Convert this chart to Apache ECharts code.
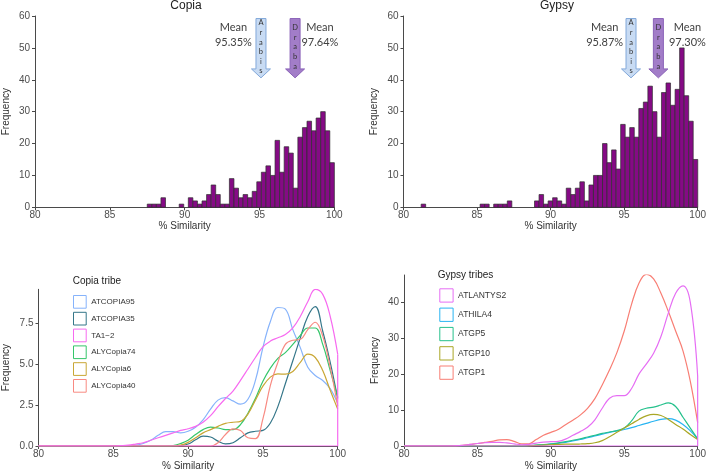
<!DOCTYPE html>
<html><head><meta charset="utf-8">
<script src="https://cdn.jsdelivr.net/npm/echarts@6/dist/echarts.min.js"></script>
<style>html,body{margin:0;padding:0;background:#fff}#c{width:709px;height:472px}</style>
</head><body><div id="c"></div>
<script>
// ---------- DATA ----------
// Histogram: Copia (41 bins starting 87.5)
const copiaBinStart = 87.5;
const copiaBinWidth = 0.305;
const copiaCounts = [1,1,1,3,0,0,0,1,0,3,2,1,2,4,7,4,1,1,9,6,3,4,3,5,8,11,13,10,21,11,19,17,6,22,25,27,24,28,30,24,14];
// Histogram: Gypsy (61 bins starting 81.2)
const gypsyBinStart = 81.2;
const gypsyBinWidth = 0.3083;
const gypsyCounts = [1,0,0,0,0,0,0,0,0,0,0,0,0,1,1,0,1,1,1,2,0,0,0,0,0,
  2,4,1,2,3,2,1,6,4,6,8,2,7,10,10,20,14,18,12,26,22,25,22,31,33,38,30,22,36,39,32,37,50,35,27,15];

const xTicks = [80,85,90,95,100];
const copiaMeans = ['95.35%','97.64%'];
const gypsyMeans = ['95.87%','97.30%'];
const arrowNames = ['Arabis','Draba'];

// Density curves: Copia tribe
const copiaCurveX = [80,84,85,85.5,86,86.5,87,87.5,88,88.5,89,89.5,90,90.5,91,91.5,92,92.5,93,93.5,94,94.5,95,95.5,96,96.5,97,97.5,98,98.5,99,99.5,100];
const copiaNames = ['ATCOPIA95','ATCOPIA35','TA1\u22122','ALYCopia74','ALYCopia6','ALYCopia40'];
const ATCOPIA95 = [0,0,0,0,0.02,0.05,0.15,0.35,0.65,0.88,0.88,0.8,0.9,1.15,1.6,2.25,2.8,2.95,2.75,2.55,2.85,4.0,6.0,7.6,8.45,8.35,7.1,6.0,4.8,4.3,4.0,3.5,2.6];
const ATCOPIA35 = [0,0,0,0,0,0,0,0,0,0,0,0.03,0.12,0.38,0.6,0.55,0.3,0.13,0.2,0.5,0.8,0.9,0.95,1.4,2.4,3.8,5.2,6.6,7.9,8.5,7.0,5.1,2.9];
const TA1_2 = [0,0,0,0.02,0.05,0.12,0.2,0.35,0.5,0.65,0.8,0.95,1.05,1.2,1.45,1.85,2.4,2.9,3.35,4.0,4.7,5.4,6.05,6.4,6.6,6.8,7.2,7.9,8.8,9.55,9.25,7.9,5.6];
const ALYCopia74 = [0,0,0,0,0,0,0,0,0,0,0.03,0.15,0.35,0.7,1.0,1.15,1.1,1.0,1.0,1.3,2.0,2.9,3.95,4.75,5.35,5.7,6.2,6.75,7.2,7.2,6.2,4.6,3.0];
const ALYCopia6 = [0,0,0,0,0,0,0,0,0,0,0,0.05,0.22,0.5,0.8,1.0,1.2,1.38,1.45,1.5,1.95,2.8,3.65,4.2,4.4,4.38,4.55,5.1,5.6,5.4,4.6,3.4,2.25];
const ALYCopia40 = [0,0,0,0,0,0,0,0,0,0,0,0,0,0,0,0,0.2,0.7,1.05,0.95,0.5,0.45,1.65,3.7,5.1,6.2,6.45,6.5,7.1,7.55,6.7,4.8,2.45];

// Density curves: Gypsy tribes
const gypsyCurveX = [80,83,83.5,84,84.5,85,85.5,86,86.5,87,87.5,88,88.5,89,89.5,90,90.5,91,91.5,92,92.5,93,93.5,94,94.5,95,95.5,96,96.5,97,97.5,98,98.5,99,99.5,100];
const gypsyNames = ['ATLANTYS2','ATHILA4','ATGP5','ATGP10','ATGP1'];
const ATLANTYS2 = [0,0,0.05,0.2,0.45,0.7,0.9,1.0,1.0,0.85,0.6,0.35,0.45,0.8,1.1,1.2,1.3,1.9,3.0,4.0,5.2,7.3,10.5,13.3,14.0,14.0,16.0,20.0,22.8,25.8,30.5,37.0,42.5,44.6,40.0,19.5];
const ATHILA4 = [0,0,0,0,0,0,0,0,0,0,0,0,0.1,0.2,0.35,0.5,0.75,1.0,1.4,1.8,2.3,2.8,3.3,3.8,4.2,4.6,5.1,5.7,6.3,6.9,7.4,7.6,7.2,6.0,4.2,2.0];
const ATGP5 = [0,0,0,0,0,0,0,0,0,0,0,0,0.1,0.25,0.4,0.6,0.85,1.2,1.6,2.0,2.5,3.0,3.5,3.9,4.3,5.0,7.0,9.7,10.5,10.8,11.4,12.0,11.0,8.0,5.0,2.0];
const ATGP10 = [0,0,0,0,0,0,0,0,0,0,0,0,0.05,0.15,0.25,0.35,0.45,0.5,0.5,0.55,0.65,0.9,1.5,2.6,3.8,5.0,6.2,7.4,8.4,8.8,8.5,7.4,6.0,4.7,3.2,1.8];
const ATGP1 = [0,0,0.05,0.2,0.45,0.7,1.0,1.3,1.7,1.8,1.3,0.6,0.6,1.8,3.0,3.8,4.6,5.9,7.2,8.6,10.5,13.2,17.0,21.2,26.0,32.0,39.5,45.3,47.8,46.5,42.5,37.5,32.0,26.5,18.0,6.5];

// ---------- STYLE ----------
const copiaColors = ['#86b3fb','#347689','#f76af0','#35c66a','#c9a735','#f88a82'];
const gypsyColors = ['#e66ef4','#28b4f2','#25c18c','#aaa726','#f87e74'];
const AX = '#4a4a4a', LBL = '#4d4d4d', FF = 'Liberation Sans, Arial, sans-serif';

function pairs(xs, ys){ return xs.map((x,i)=>[x, ys[i]]); }
function histData(start, w, counts){
  const out = [];
  counts.forEach((c,i)=>{ if(c>0) out.push([start+i*w, start+(i+1)*w, c]); });
  return out;
}
function histRender(params, api){
  const p0 = api.coord([api.value(0), api.value(2)]);
  const p1 = api.coord([api.value(1), 0]);
  return {type:'rect', shape:{x:p0[0], y:p0[1], width:p1[0]-p0[0], height:p1[1]-p0[1]},
    style:{fill:'#850a85', stroke:'#2e2e2e', lineWidth:0.7}};
}
// arrow annotation geometry in frequency units
const arrowTop = 59.2, arrowHeadY = 43.4, arrowTipY = 40.6;
function arrowRender(params, api){
  const x = api.value(0), idx = api.value(1);
  const t = api.coord([x, arrowTop]), h = api.coord([x, arrowHeadY]), p = api.coord([x, arrowTipY]);
  const cx = t[0], sw = 5, hw = 9.5;
  const fill = idx === 0 ? '#c8dbf3' : '#a27dc8';
  const stroke = idx === 0 ? '#82a8da' : '#8a62b8';
  const word = arrowNames[idx];
  const children = [{type:'polygon', shape:{points:[[cx-sw,t[1]],[cx+sw,t[1]],[cx+sw,h[1]],[cx+hw,h[1]],[cx,p[1]],[cx-hw,h[1]],[cx-sw,h[1]]]},
    style:{fill:fill, stroke:stroke, lineWidth:1}}];
  const step = 9.6, mid = t[1] + 28.5;
  const n = word.length;
  for(let i=0;i<n;i++){
    children.push({type:'text', x:cx, y: mid + (i-(n-1)/2)*step,
      style:{text:word[i], fill:'#333', fontSize:7.5, fontFamily:'Lato, sans-serif', align:'center', verticalAlign:'middle'}});
  }
  return {type:'group', children:children};
}
const meanY = 53.9;
function meanRender(params, api){
  const c = api.coord([api.value(0), meanY]);
  const list = params.seriesIndex === 2 ? copiaMeans : gypsyMeans;
  return {type:'text', x:c[0], y:c[1], style:{text:'Mean\n'+list[api.value(1)], fill:'#404040', fontSize:11, lineHeight:15,
    fontFamily:'Lato, sans-serif', align:'center', verticalAlign:'middle'}};
}

function xAxisOpt(gi, gap){
  return {type:'value', gridIndex:gi, min:80, max:100, interval:5,
    axisLine:{show:true, lineStyle:{color:AX, width:1}}, axisTick:{show:true, length:3, lineStyle:{color:AX}},
    axisLabel:{fontSize:10, color:LBL, margin:3, fontFamily:FF}, splitLine:{show:false},
    name:'% Similarity', nameLocation:'middle', nameGap:gap, nameTextStyle:{fontSize:10, color:'#333', fontFamily:FF}};
}
function yAxisOpt(gi, max, ticks, gap, fmt){
  const o = {type:'value', gridIndex:gi, min:0, max:max,
    axisLine:{show:true, lineStyle:{color:AX, width:1}},
    axisTick:{show:true, length:3, lineStyle:{color:AX}},
    axisLabel:{fontSize:10, color:LBL, margin:5, fontFamily:FF},
    splitLine:{show:false},
    name:'Frequency', nameLocation:'middle', nameGap:gap, nameRotate:90, nameTextStyle:{fontSize:10, color:'#333', fontFamily:FF}};
  if(ticks){ o.axisLabel.customValues = ticks; o.axisTick.customValues = ticks; }
  else { o.interval = 10; }
  if(fmt) o.axisLabel.formatter = fmt;
  return o;
}
function curve(name, xs, ys, color, xi){
  return {type:'line', name:name, xAxisIndex:xi, yAxisIndex:xi, data:pairs(xs, ys), smooth:0.4, symbol:'none',
    lineStyle:{color:color, width:1.2}, itemStyle:{color:color}, silent:true};
}
function straight(name, pts, color, xi){
  return {type:'line', name:name, xAxisIndex:xi, yAxisIndex:xi, data:pts, smooth:false, symbol:'none',
    lineStyle:{color:color, width:1.2}, silent:true};
}

const chart = echarts.init(document.getElementById('c'), null, {renderer:'canvas'});
const option = {
  animation:false,
  backgroundColor:'#fff',
  grid:[
    {left:34.3, right:374.7, top:16, bottom:264.7},
    {left:403.5, right:6.5, top:16, bottom:264.7},
    {left:37.7, right:371.3, top:289.3, bottom:24.7},
    {left:404, right:1.3, top:275, bottom:24.7}
  ],
  xAxis:[xAxisOpt(0,14), xAxisOpt(1,14), xAxisOpt(2,15), xAxisOpt(3,15)],
  yAxis:[
    yAxisOpt(0, 60, null, 24),
    yAxisOpt(1, 60, null, 24.5),
    yAxisOpt(2, 9.56, [0,2.5,5,7.5], 27.5, v=>v.toFixed(1)),
    yAxisOpt(3, 47.6, [0,10,20,30,40], 24)
  ],
  legend:[
    {data:copiaNames.map((n,i)=>({name:n, icon:'rect', itemStyle:{color:'#fff', borderColor:copiaColors[i], borderWidth:1}})),
     orient:'vertical', left:73, top:295, padding:0, itemWidth:12.7, itemHeight:12.7, itemGap:3.1, selectedMode:false,
     textStyle:{fontSize:8, color:'#333', fontFamily:'Liberation Sans Narrow, Arial Narrow, sans-serif'}},
    {data:gypsyNames.map((n,i)=>({name:n, icon:'rect', itemStyle:{color:'#fff', borderColor:gypsyColors[i], borderWidth:1}})),
     orient:'vertical', left:439.3, top:288.3, padding:0, itemWidth:13.3, itemHeight:13.3, itemGap:5, selectedMode:false,
     textStyle:{fontSize:8.5, color:'#333', fontFamily:'Liberation Sans Narrow, Arial Narrow, sans-serif'}}
  ],
  graphic:[
    {type:'text', x:186, y:5.5, style:{text:'Copia', fontSize:12, fill:'#222', fontFamily:FF, align:'center', verticalAlign:'middle'}},
    {type:'text', x:557, y:5.5, style:{text:'Gypsy', fontSize:12, fill:'#222', fontFamily:FF, align:'center', verticalAlign:'middle'}},
    {type:'text', x:72.7, y:281.7, style:{text:'Copia tribe', fontSize:10, fill:'#222', fontFamily:FF, align:'left', verticalAlign:'middle'}},
    {type:'text', x:437.7, y:275, style:{text:'Gypsy tribes', fontSize:10, fill:'#222', fontFamily:FF, align:'left', verticalAlign:'middle'}}
  ],
  series:[
    {type:'custom', name:'copiaHist', xAxisIndex:0, yAxisIndex:0, renderItem:histRender, data:histData(copiaBinStart, copiaBinWidth, copiaCounts), encode:{x:[0,1], y:2}, silent:true},
    {type:'custom', name:'copiaArrows', xAxisIndex:0, yAxisIndex:0, renderItem:arrowRender, data:[[95.1,0],[97.38,1]], encode:{x:0}, silent:true},
    {type:'custom', name:'copiaMean', xAxisIndex:0, yAxisIndex:0, renderItem:meanRender, data:[[93.26,0],[99.04,1]], encode:{x:0}, silent:true},
    {type:'custom', name:'gypsyHist', xAxisIndex:1, yAxisIndex:1, renderItem:histRender, data:histData(gypsyBinStart, gypsyBinWidth, gypsyCounts), encode:{x:[0,1], y:2}, silent:true},
    {type:'custom', name:'gypsyArrows', xAxisIndex:1, yAxisIndex:1, renderItem:arrowRender, data:[[95.47,0],[97.33,1]], encode:{x:0}, silent:true},
    {type:'custom', name:'gypsyMean', xAxisIndex:1, yAxisIndex:1, renderItem:meanRender, data:[[93.68,0],[99.3,1]], encode:{x:0}, silent:true},

    curve(copiaNames[0], copiaCurveX, ATCOPIA95, copiaColors[0], 2),
    curve(copiaNames[1], copiaCurveX, ATCOPIA35, copiaColors[1], 2),
    curve(copiaNames[3], copiaCurveX, ALYCopia74, copiaColors[3], 2),
    curve(copiaNames[4], copiaCurveX, ALYCopia6, copiaColors[4], 2),
    curve(copiaNames[5], copiaCurveX, ALYCopia40, copiaColors[5], 2),
    curve(copiaNames[2], copiaCurveX, TA1_2, copiaColors[2], 2),
    straight('TA1-2 edge', [[80,0],[100,0],[100, TA1_2[TA1_2.length-1]]], copiaColors[2], 2),

    curve(gypsyNames[1], gypsyCurveX, ATHILA4, gypsyColors[1], 3),
    curve(gypsyNames[2], gypsyCurveX, ATGP5, gypsyColors[2], 3),
    curve(gypsyNames[3], gypsyCurveX, ATGP10, gypsyColors[3], 3),
    curve(gypsyNames[4], gypsyCurveX, ATGP1, gypsyColors[4], 3),
    curve(gypsyNames[0], gypsyCurveX, ATLANTYS2, gypsyColors[0], 3),
    straight('ATLANTYS2 edge', [[80,0],[100,0],[100, ATLANTYS2[ATLANTYS2.length-1]]], gypsyColors[0], 3)
  ]
};
chart.setOption(option);
</script>
</body></html>
